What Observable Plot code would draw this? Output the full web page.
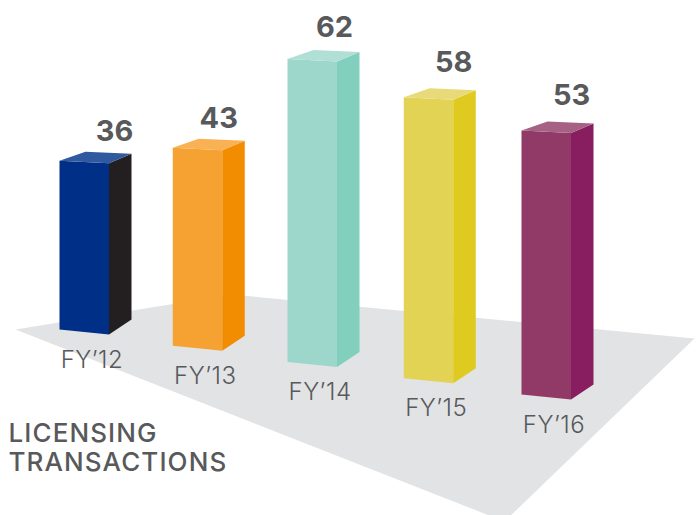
<!DOCTYPE html>
<html>
<head>
<meta charset="utf-8">
<script src="https://cdn.jsdelivr.net/npm/d3@7"></script>
<script src="https://cdn.jsdelivr.net/npm/@observablehq/plot@0.6"></script>
<style>
html,body{margin:0;padding:0;background:#fff;overflow:hidden}
svg{display:block}
.cat-label{letter-spacing:0.5px}
.title-label{letter-spacing:1.1px}
</style>
</head>
<body>
<div id="chart"></div>
<script>
// Data
const categories = ["FY’12", "FY’13", "FY’14", "FY’15", "FY’16"];
const values = [36, 43, 62, 58, 53];
// Bar heights as actually drawn in the picture, in label units
const drawnHeights = [36, 42.2, 64.6, 59.9, 56.3];
const titleLines = "LICENSING\nTRANSACTIONS";

// Colours per bar
const frontColors = ["#002f87", "#f6a233", "#9dd6cb", "#e3d355", "#913967"];
const topColors = ["#305aa0", "#f9b154", "#b0dfd5", "#e8da78", "#a66283"];
const sideColors = ["#231f20", "#f28c00", "#83cfbe", "#dfca1f", "#881d5f"];
const floorColor = "#e1e3e5";
const inkColor = "#58595b";

// Scene layout: x is in slot units, y in value units; pixel sizes convert through these
const W = 696, H = 515, slotPx = 115, unitPx = 4.69, originX = 59, originY = 329;
const ux = (p) => p / slotPx;
const uy = (p) => p / unitPx;
const slotX = (i) => ux(112.5 * i + 0.75 * i * i);   // slots widen slightly with perspective
const floorY = (i) => -uy(16.25 * i);                 // floor falls away towards the viewer
const sx = (px) => ux(px - originX);
const sy = (py) => uy(originY - py);

// Value-label nudges and gaps (px)
const labelNudge = [55, 46, 47, 50, 50];
const labelGap = [20, 20, 22, 25, 25];

const rows = [];
categories.forEach((c, i) => {
  const bx = slotX(i), by = floorY(i), t = by + drawnHeights[i];
  const poly = (face, color, pts) => pts.forEach(([x, y]) => rows.push({id: c + face, x, y, color}));
  poly("front", frontColors[i], [
    [bx, by], [bx, t], [bx + ux(49.5), t - uy(2.5)], [bx + ux(49.5), by - uy(5)]
  ]);
  poly("side", sideColors[i], [
    [bx + ux(49.5), by - uy(5)], [bx + ux(49.5), t - uy(2.5)], [bx + ux(72), t + uy(7)], [bx + ux(72), by + uy(10)]
  ]);
  poly("top", topColors[i], [
    [bx, t], [bx + ux(26), t + uy(9)], [bx + ux(72), t + uy(7)], [bx + ux(49.5), t - uy(2.5)]
  ]);
});

const floor = [[15, 329], [231, 294], [694, 338], [504, 521]].map(([x, y]) => ({x: sx(x), y: sy(y)}));

const table = categories.map((c, i) => ({
  category: c,
  value: values[i],
  valueX: slotX(i) + ux(labelNudge[i]),
  valueY: floorY(i) + drawnHeights[i] + uy(labelGap[i]),
  catX: slotX(i) + ux(32.5),
  catY: floorY(i) - uy(38)
}));

const font = "Inter, 'Noto Sans', sans-serif";

const plot = Plot.plot({
  width: W,
  height: H,
  margin: 0,
  x: {domain: [sx(0), sx(W)], range: [0, W], axis: null},
  y: {domain: [sy(H), sy(0)], range: [H, 0], axis: null},
  color: {type: "identity"},
  style: {background: "#fff"},
  marks: [
    Plot.line(floor.concat(floor[0]), {x: "x", y: "y", fill: floorColor, stroke: "none"}),
    Plot.line(rows, {x: "x", y: "y", z: "id", fill: "color", stroke: "none"}),
    Plot.text(table, {
      x: "valueX", y: "valueY", text: (d) => String(d.value),
      fontSize: 29, fontWeight: 700, fill: inkColor, fontFamily: font, lineAnchor: "bottom"
    }),
    Plot.text(table, {
      x: "catX", y: "catY", text: "category", className: "cat-label",
      fontSize: 24, fontWeight: 300, fill: inkColor, fontFamily: font, lineAnchor: "bottom"
    }),
    Plot.text([titleLines], {
      x: sx(8), y: sy(440), text: (d) => d, textAnchor: "start", lineAnchor: "top", dy: -18,
      lineHeight: 1.08, fontSize: 26, fontWeight: 500, fill: inkColor, fontFamily: font, className: "title-label"
    })
  ]
});
document.getElementById("chart").appendChild(plot);
</script>
</body>
</html>
